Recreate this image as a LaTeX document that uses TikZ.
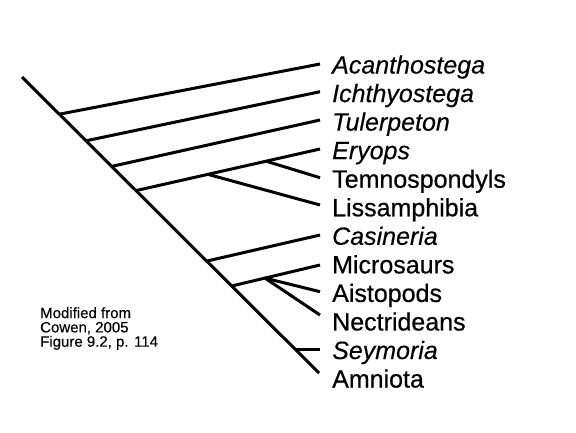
\documentclass[tikz,border=0pt]{standalone}
\usepackage{fontspec}
\setmainfont{Liberation Sans}
\newfontfamily\upfont{Liberation Sans}[FakeBold=0.6]
\newfontfamily\slfont{Liberation Sans}[FakeBold=0.3]
\usetikzlibrary{calc}
\begin{document}
\begin{tikzpicture}[x=1pt,y=-1pt,
  branch/.style={line width=3pt},
  taxon/.style={anchor=base west, inner sep=0pt, font=\fontsize{25}{30}\selectfont\upfont},
  genus/.style={anchor=base west, inner sep=0pt, font=\fontsize{25}{30}\selectfont\slfont\itshape},
  note/.style={anchor=base west, inner sep=0pt, align=left, font=\fontsize{15}{14.3}\selectfont\slfont}]
\useasboundingbox (0,0) rectangle (576,432);
% main stem
\coordinate (root) at (22,77);
\coordinate (tip) at (319,373);
% branch points on stem
\coordinate (d0) at (59.3,114.2);
\coordinate (d1) at (86,140.8);
\coordinate (d2) at (111.7,166.4);
\coordinate (d3) at (136,190.6);
\coordinate (d6) at (206.7,261.1);
\coordinate (d7) at (231.7,286);
\coordinate (d10) at (295,349.3);
% branch ends
\coordinate (e0) at (320,64);
\coordinate (e1) at (320,91.7);
\coordinate (e2) at (320,120);
\coordinate (e3) at (320,149);
\coordinate (e4) at (320,177.7);
\coordinate (e5) at (320,205);
\coordinate (e6) at (320,235);
\coordinate (e7) at (320,265);
\coordinate (e8) at (320,291.7);
\coordinate (e9) at (320,315);
\coordinate (e10) at (320,349.3);
% inner nodes
\coordinate (t4) at ($(d3)!0.707!(e3)$);
\coordinate (t5) at ($(d3)!0.391!(e3)$);
\coordinate (a8) at ($(d7)!0.377!(e7)$);
% labels
\node[genus] (L0) at (332,73.5) {Acanthostega};
\node[genus] (L1) at (332,102.05) {Ichthyostega};
\node[genus] (L2) at (332,130.6) {Tulerpeton};
\node[genus] (L3) at (332,159.15) {Eryops};
\node[taxon] (L4) at (332,187.7) {Temnospondyls};
\node[taxon] (L5) at (332,216.25) {Lissamphibia};
\node[genus] (L6) at (332,244.8) {Casineria};
\node[taxon] (L7) at (332,273.35) {Microsaurs};
\node[taxon] (L8) at (332,301.9) {Aistopods};
\node[taxon] (L9) at (332,330.45) {Nectrideans};
\node[genus] (L10) at (332,359) {Seymoria};
\node[taxon] (L11) at (332,387.55) {Amniota};
\node[note] (src) at (40,346.7) {Modified from\\Cowen, 2005\\Figure 9.2, p. 114};
% tree
\draw[branch] (root) -- (tip);
\draw[branch] (d0) -- (e0);
\draw[branch] (d1) -- (e1);
\draw[branch] (d2) -- (e2);
\draw[branch] (d3) -- (e3);
\draw[branch] (t4) -- (e4);
\draw[branch] (t5) -- (e5);
\draw[branch] (d6) -- (e6);
\draw[branch] (d7) -- (e7);
\draw[branch] (a8) -- (e8);
\draw[branch] (a8) -- (e9);
\draw[branch] (d10) -- (e10);
\end{tikzpicture}
\end{document}
